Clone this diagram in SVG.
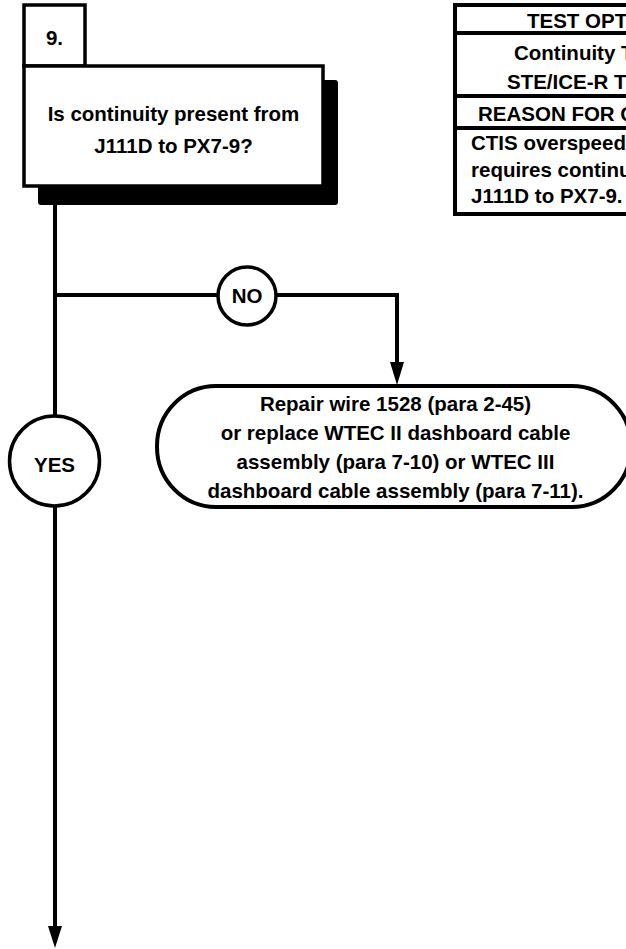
<svg xmlns="http://www.w3.org/2000/svg" width="626" height="949" viewBox="0 0 626 949">
<style>
  text { font-family: "Liberation Sans", Arial, sans-serif; font-weight: bold; font-size: 20.5px; fill: #000; }
  .c { text-anchor: middle; }
  .box { fill: #fff; stroke: #000; stroke-width: 3.5; }
  .line { fill: none; stroke: #000; stroke-width: 4; }
</style>
<defs>
  <marker id="arr" markerWidth="14" markerHeight="22" refX="7" refY="22" orient="auto-start-reverse" markerUnits="userSpaceOnUse" viewBox="0 0 14 22">
    <path d="M0,0 L14,0 L7,22 Z" fill="#000"/>
  </marker>
</defs>
<rect width="626" height="949" fill="#fff"/>

<g id="connectors">
  <line class="line" x1="55" y1="205" x2="55" y2="416"/>
  <path class="line" d="M55,506 L55,927" />
  <path d="M48,926 L62,926 L55,948 Z" fill="#000"/>
  <line class="line" x1="55" y1="295" x2="218" y2="295"/>
  <path class="line" d="M277,295 L397,295 L397,363"/>
  <path d="M390,362 L404,362 L397,385 Z" fill="#000"/>
</g>

<g id="step9">
  <rect x="38" y="80" width="300" height="125" rx="3" fill="#000"/>
  <rect class="box" x="24" y="5" width="61" height="61"/>
  <text class="c" x="54.5" y="45">9.</text>
  <rect class="box" x="24" y="66" width="299" height="120"/>
  <text class="c" x="173.5" y="121">Is continuity present from</text>
  <text class="c" x="173.5" y="153">J111D to PX7-9?</text>
</g>

<g id="test-options">
  <rect x="455" y="5" width="200" height="209" fill="#fff" stroke="#000" stroke-width="4"/>
  <line x1="455" y1="33" x2="626" y2="33" stroke="#000" stroke-width="4"/>
  <line x1="455" y1="96" x2="626" y2="96" stroke="#000" stroke-width="4"/>
  <line x1="455" y1="128" x2="626" y2="128" stroke="#000" stroke-width="4"/>
  <text x="527" y="28">TEST OPT</text>
  <text x="514" y="60">Continuity T</text>
  <text x="507" y="89">STE/ICE-R T</text>
  <text x="478" y="121">REASON FOR Q</text>
  <text x="471" y="150">CTIS overspeed</text>
  <text x="471" y="177">requires continu</text>
  <text x="471" y="203">J111D to PX7-9.</text>
</g>

<g id="no">
  <circle cx="247" cy="296" r="29" fill="#fff" stroke="#000" stroke-width="3.5"/>
  <text class="c" x="247" y="303">NO</text>
</g>

<g id="yes">
  <circle cx="54.5" cy="461" r="45" fill="#fff" stroke="#000" stroke-width="3.5"/>
  <text class="c" x="54.5" y="472">YES</text>
</g>

<g id="repair">
  <rect x="157" y="386" width="474" height="121" rx="59" ry="60" fill="#fff" stroke="#000" stroke-width="4"/>
  <text class="c" x="395.5" y="411">Repair wire 1528 (para 2-45)</text>
  <text class="c" x="395.5" y="440">or replace WTEC II dashboard cable</text>
  <text class="c" x="395.5" y="469">assembly (para 7-10) or WTEC III</text>
  <text class="c" x="395.5" y="498">dashboard cable assembly (para 7-11).</text>
</g>
</svg>
